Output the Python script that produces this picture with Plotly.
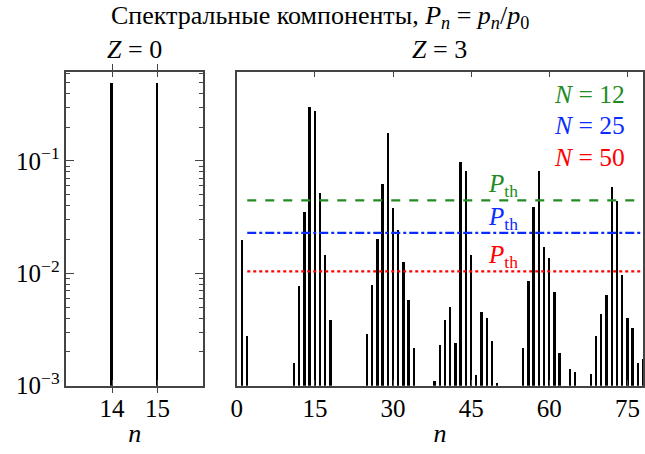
import math
import plotly.graph_objects as go

# ---- data ----
n_z0 = [14, 15]
P_z0 = [0.5, 0.5]

n_z3 = [1, 2,
        11, 12, 13, 14, 15, 16, 17, 18,
        25, 26, 27, 28, 29, 30, 31, 32, 33, 34,
        38, 39, 40, 41, 42, 43, 44, 45, 46, 47, 48, 49, 50,
        55, 56, 57, 58, 59, 60, 61, 62, 64, 65,
        68, 69, 70, 71, 72, 73, 74, 75, 76, 77, 78]
P_z3 = [0.0198, 0.0028,
        0.00159, 0.00778, 0.0351, 0.304, 0.279, 0.052, 0.0145, 0.00384,
        0.0029, 0.00788, 0.0201, 0.063, 0.179, 0.0386, 0.0243, 0.0127, 0.00585, 0.0022,
        0.0011, 0.00233, 0.0039, 0.00502, 0.00243, 0.0975, 0.082, 0.0145, 0.00125, 0.00455, 0.00403, 0.00251, 0.00106,
        0.00216, 0.00853, 0.0388, 0.0824, 0.0174, 0.0139, 0.00686, 0.00195, 0.00141, 0.00134,
        0.00128, 0.00277, 0.0044, 0.00646, 0.0593, 0.0446, 0.00962, 0.00406, 0.00331, 0.00161, 0.00174]

N_labels = ["12", "25", "50"]
P_th = [0.0446, 0.0229, 0.0104]
th_colors = ["#228B22", "#0a2cff", "#ff0000"]
th_dash = ["dash", "dashdot", "dot"]
th_x = [2, 78]
th_label_x = 51.2

y_tickvals = [1e-3, 1e-2, 1e-1]
y_ticktext = ["10<sup>−3</sup>", "10<sup>−2</sup>", "10<sup>−1</sup>"]
y_minor = [m * 10.0 ** e for e in (-3, -2, -1) for m in range(2, 10) if m * 10.0 ** e < 0.62]
x0_ticks = [14, 15]
x3_ticks = [0, 15, 30, 45, 60, 75]

FONT = "Liberation Serif"
W, H = 645, 454
AX = "#444444"

fig = go.Figure()
fig.add_trace(go.Bar(x=n_z0, y=P_z0, width=0.055, marker=dict(color="black", line_width=0),
                     xaxis="x", yaxis="y", showlegend=False))
fig.add_trace(go.Bar(x=n_z3, y=P_z3, width=0.36, marker=dict(color="black", line_width=0),
                     xaxis="x2", yaxis="y2", showlegend=False))
for th, c, d in zip(P_th, th_colors, th_dash):
    fig.add_trace(go.Scatter(x=th_x, y=[th, th], mode="lines",
                             line=dict(color=c, width=2.2, dash=d),
                             xaxis="x2", yaxis="y2", showlegend=False))
# carrier trace for the minor-tick axis (same data as the Z=0 bars, not drawn)
fig.add_trace(go.Scatter(x=n_z0, y=P_z0, mode="lines", line=dict(width=0, color="rgba(0,0,0,0)"),
                         xaxis="x", yaxis="y3", showlegend=False, hoverinfo="skip"))

ytop, ybot = 74, 398
ydom = [1 - ybot / H, 1 - ytop / H]
yrange = [-3, -0.207]

common_axis = dict(showline=True, linecolor=AX, linewidth=1.5, mirror="allticks",
                   ticks="inside", tickcolor=AX, tickwidth=1.3, showgrid=False, zeroline=False,
                   tickfont=dict(family=FONT, size=25, color="black"))

fig.update_layout(
    width=W, height=H,
    margin=dict(l=0, r=0, t=0, b=0),
    plot_bgcolor="white", paper_bgcolor="white",
    bargap=0,
    font=dict(family=FONT, color="black"),
    xaxis=dict(domain=[61 / W, 199 / W], range=[13, 16], tickvals=x0_ticks,
               ticklen=6, anchor="y",
               title=dict(text="<i>n</i>", font=dict(family=FONT, size=26), standoff=2),
               **common_axis),
    yaxis=dict(domain=ydom, type="log", range=yrange, tickvals=y_tickvals,
               ticktext=y_ticktext, ticklen=8, anchor="x",
               **common_axis),
    yaxis3=dict(domain=ydom, type="log", range=yrange, overlaying="y", anchor="x", side="left",
                tickmode="array", tickvals=y_minor, ticktext=[""] * len(y_minor),
                ticks="inside", ticklen=4, tickcolor=AX, tickwidth=1.2,
                showticklabels=True, showline=True, linecolor=AX, linewidth=1.5,
                mirror="allticks", showgrid=False, zeroline=False),
    xaxis2=dict(domain=[233 / W, 643 / W], range=[0, 78], tickvals=x3_ticks,
                ticklen=6, anchor="y2",
                title=dict(text="<i>n</i>", font=dict(family=FONT, size=26), standoff=2),
                **common_axis),
    yaxis2=dict(domain=ydom, type="log", range=yrange, anchor="x2",
                showticklabels=False, ticks="", showline=True, linecolor=AX, linewidth=1.5,
                mirror=True, showgrid=False, zeroline=False),
)

ann = []
ann.append(dict(text="Спектральные компоненты, <i>P<sub>n</sub></i> = <i>p<sub>n</sub></i>/<i>p</i><sub>0</sub>",
                x=317 / W, y=1 - 18 / H, xref="paper", yref="paper", showarrow=False,
                font=dict(family=FONT, size=26, color="black"), xanchor="center", yanchor="middle"))
ann.append(dict(text="<i>Z</i> = 0", x=130 / W, y=1 - 51 / H, xref="paper", yref="paper",
                showarrow=False, font=dict(family=FONT, size=26), xanchor="center", yanchor="middle"))
ann.append(dict(text="<i>Z</i> = 3", x=438 / W, y=1 - 51 / H, xref="paper", yref="paper",
                showarrow=False, font=dict(family=FONT, size=26), xanchor="center", yanchor="middle"))
for i, (lab, c) in enumerate(zip(N_labels, th_colors)):
    ann.append(dict(text=f"<i>N</i> = {lab}", x=627 / W, y=1 - (98 + 32 * i) / H,
                    xref="paper", yref="paper", showarrow=False,
                    font=dict(family=FONT, size=25.5, color=c), xanchor="right", yanchor="middle"))
for th, c in zip(P_th, th_colors):
    ann.append(dict(text="<i>P</i><sub>th</sub>", x=th_label_x, y=math.log10(th), xref="x2", yref="y2",
                    showarrow=False, font=dict(family=FONT, size=25, color=c),
                    xanchor="center", yanchor="bottom", yshift=-3))
fig.update_layout(annotations=ann)

fig.write_html("out.html")
